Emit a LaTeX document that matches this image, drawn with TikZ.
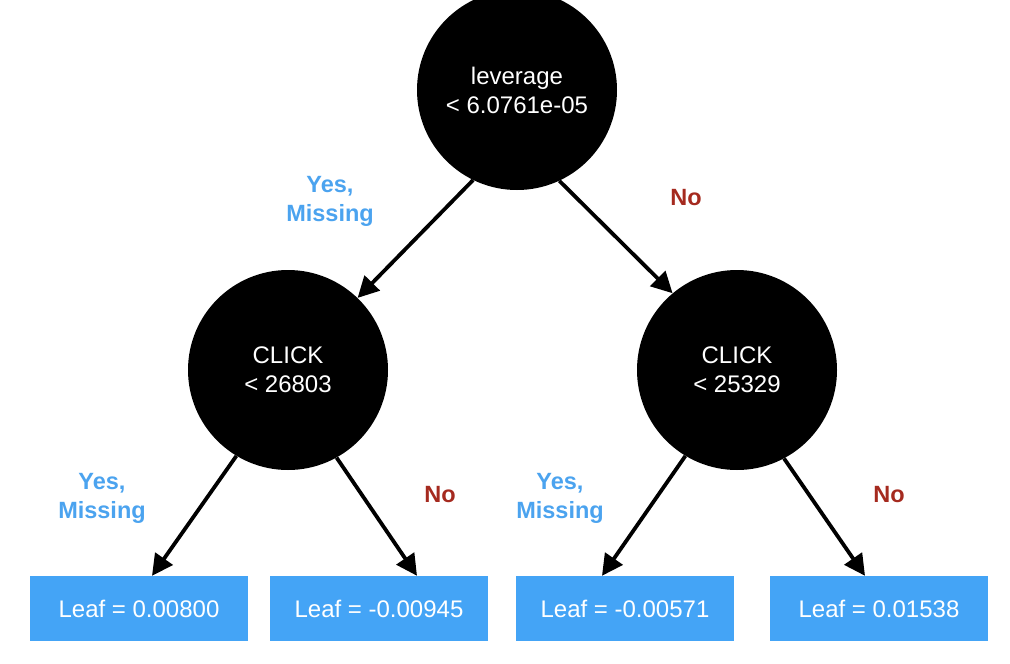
\documentclass[tikz,border=0pt]{standalone}
\usepackage{fontspec}
\setmainfont{Liberation Sans}
\usetikzlibrary{arrows.meta}
\definecolor{leafblue}{HTML}{44A4F6}
\definecolor{yesblue}{HTML}{4BA3EF}
\definecolor{nored}{HTML}{A52A1F}
\begin{document}
\begin{tikzpicture}[x=1pt,y=-1pt,
  split/.style={circle, fill=black, minimum size=200pt, inner sep=0pt,
    text=white, align=center, font=\fontsize{24}{29}\selectfont},
  leaf/.style={rectangle, fill=leafblue, minimum width=218pt, minimum height=65pt,
    inner sep=0pt, text=white, font=\fontsize{24}{29}\selectfont},
  yeslabel/.style={text=yesblue, align=center, font=\bfseries\fontsize{23.5}{29}\selectfont},
  nolabel/.style={text=nored, font=\bfseries\fontsize{23.5}{29}\selectfont},
  edge/.style={line width=3.8pt, -{Triangle[length=21pt,width=21pt]}}]
\useasboundingbox (0,0) rectangle (1010,664);

% split nodes
\node[split] (root)  at (517,90)  {leverage\\< 6.0761e-05};
\node[split] (left)  at (288,370) {CLICK\\< 26803};
\node[split] (right) at (737,370) {CLICK\\< 25329};

% leaves
\node[leaf] (leaf1) at (139,608.5) {Leaf = 0.00800};
\node[leaf] (leaf2) at (379,608.5) {Leaf = -0.00945};
\node[leaf] (leaf3) at (625,608.5) {Leaf = -0.00571};
\node[leaf] (leaf4) at (879,608.5) {Leaf = 0.01538};

% branches
\draw[edge] (root.244) -- (left.46);
\draw[edge] (root.295) -- (right.130);
\draw[edge] (left.239) -- ([xshift=13pt]leaf1.north);
\draw[edge] (left.299) -- ([xshift=38pt]leaf2.north);
\draw[edge] (right.239) -- ([xshift=-23pt]leaf3.north);
\draw[edge] (right.298) -- ([xshift=-14pt]leaf4.north);

% branch labels
\node[yeslabel] (ylroot)  at (330,201) {Yes,\\Missing};
\node[nolabel]  (nlroot)  at (686,198) {No};
\node[yeslabel] (ylleft)  at (102,498) {Yes,\\Missing};
\node[nolabel]  (nlleft)  at (440,495) {No};
\node[yeslabel] (ylright) at (560,498) {Yes,\\Missing};
\node[nolabel]  (nlright) at (889,495) {No};
\end{tikzpicture}
\end{document}
